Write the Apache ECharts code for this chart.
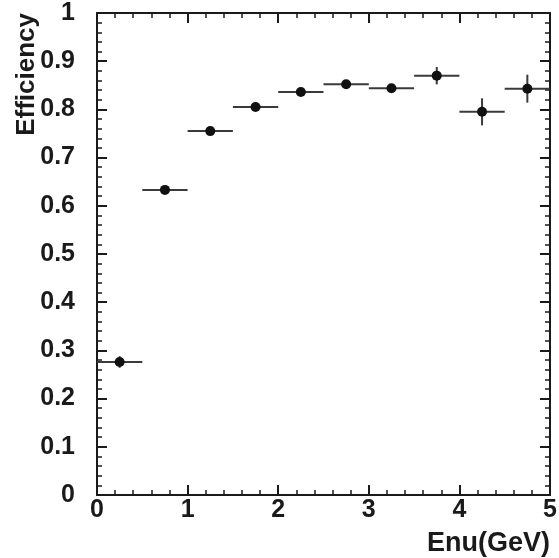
<!DOCTYPE html>
<html>
<head>
<meta charset="utf-8">
<script src="https://cdn.jsdelivr.net/npm/echarts@6/dist/echarts.min.js"></script>
<style>html,body{margin:0;padding:0;background:#fff;}#c{width:559px;height:558px;}</style>
</head>
<body>
<div id="c"></div>
<script>
// Data
var binLow = [0, 0.5, 1.0, 1.5, 2.0, 2.5, 3.0, 3.5, 4.0, 4.5];
var binHigh = [0.5, 1.0, 1.5, 2.0, 2.5, 3.0, 3.5, 4.0, 4.5, 5.0];
var efficiency = [0.276, 0.633, 0.755, 0.805, 0.836, 0.852, 0.844, 0.870, 0.795, 0.843];
var efficiencyErr = [0.012, 0.005, 0.005, 0.005, 0.005, 0.005, 0.007, 0.018, 0.028, 0.029];
var xTitle = 'Enu(GeV)';
var yTitle = 'Efficiency';

var FONT = '"Liberation Sans", Arial, Helvetica, sans-serif';
var points = [];
for (var i = 0; i < binLow.length; i++) {
  points.push([(binLow[i] + binHigh[i]) / 2, efficiency[i], binLow[i], binHigh[i], efficiencyErr[i]]);
}

var axisCommon = {
  axisLine: {show: true, onZero: false, lineStyle: {color: '#1a1a1a', width: 2}},
  axisTick: {show: true, inside: true, length: 10, lineStyle: {color: '#1a1a1a', width: 2}},
  minorTick: {show: true, splitNumber: 5, length: 5, lineStyle: {color: '#1a1a1a', width: 1.5}},
  splitLine: {show: false}
};

var chart = echarts.init(document.getElementById('c'), null, {renderer: 'canvas'});
chart.setOption({
  backgroundColor: '#fff',
  animation: false,
  grid: {left: 97, right: 9, top: 13, bottom: 63, containLabel: false, outerBoundsMode: 'none'},
  xAxis: [
    Object.assign({}, axisCommon, {
      type: 'value', min: 0, max: 5, interval: 1, position: 'bottom',
      name: xTitle, nameLocation: 'end', nameGap: 0, nameMoveOverlap: false,
      nameTextStyle: {fontFamily: FONT, fontWeight: 'bold', fontSize: 27, color: '#1a1a1a', align: 'right', verticalAlign: 'top', padding: [35, 0, 0, 0]},
      axisLabel: {fontFamily: FONT, fontWeight: 'bold', fontSize: 25, color: '#1a1a1a', margin: 3}
    }),
    Object.assign({}, axisCommon, {
      type: 'value', min: 0, max: 5, interval: 1, position: 'top',
      axisLabel: {show: false}
    })
  ],
  yAxis: [
    Object.assign({}, axisCommon, {
      type: 'value', min: 0, max: 1, interval: 0.1, position: 'left',
      name: yTitle, nameLocation: 'end', nameGap: 0, nameRotate: 90, nameMoveOverlap: false,
      nameTextStyle: {fontFamily: FONT, fontWeight: 'bold', fontSize: 26, color: '#1a1a1a', align: 'right', verticalAlign: 'bottom', padding: [0, 0, 57, 0]},
      axisLabel: {fontFamily: FONT, fontWeight: 'bold', fontSize: 25, color: '#1a1a1a', margin: 22}
    }),
    Object.assign({}, axisCommon, {
      type: 'value', min: 0, max: 1, interval: 0.1, position: 'right',
      axisLabel: {show: false}
    })
  ],
  series: [
    {
      type: 'custom',
      xAxisIndex: 0, yAxisIndex: 0,
      data: points,
      renderItem: function (params, api) {
        var y = api.value(1);
        var lo = api.coord([api.value(2), y]);
        var hi = api.coord([api.value(3), y]);
        var up = api.coord([api.value(0), y + api.value(4)]);
        var dn = api.coord([api.value(0), y - api.value(4)]);
        var style = {stroke: '#3a3a3a', lineWidth: 2, fill: null};
        return {
          type: 'group',
          children: [
            {type: 'line', shape: {x1: lo[0], y1: lo[1], x2: hi[0], y2: hi[1]}, style: style},
            {type: 'line', shape: {x1: up[0], y1: up[1], x2: dn[0], y2: dn[1]}, style: style}
          ]
        };
      },
      z: 2
    },
    {
      type: 'scatter',
      xAxisIndex: 0, yAxisIndex: 0,
      data: points.map(function (p) { return [p[0], p[1]]; }),
      symbol: 'circle', symbolSize: 10,
      itemStyle: {color: '#111', opacity: 1},
      z: 3
    }
  ]
});
</script>
</body>
</html>
